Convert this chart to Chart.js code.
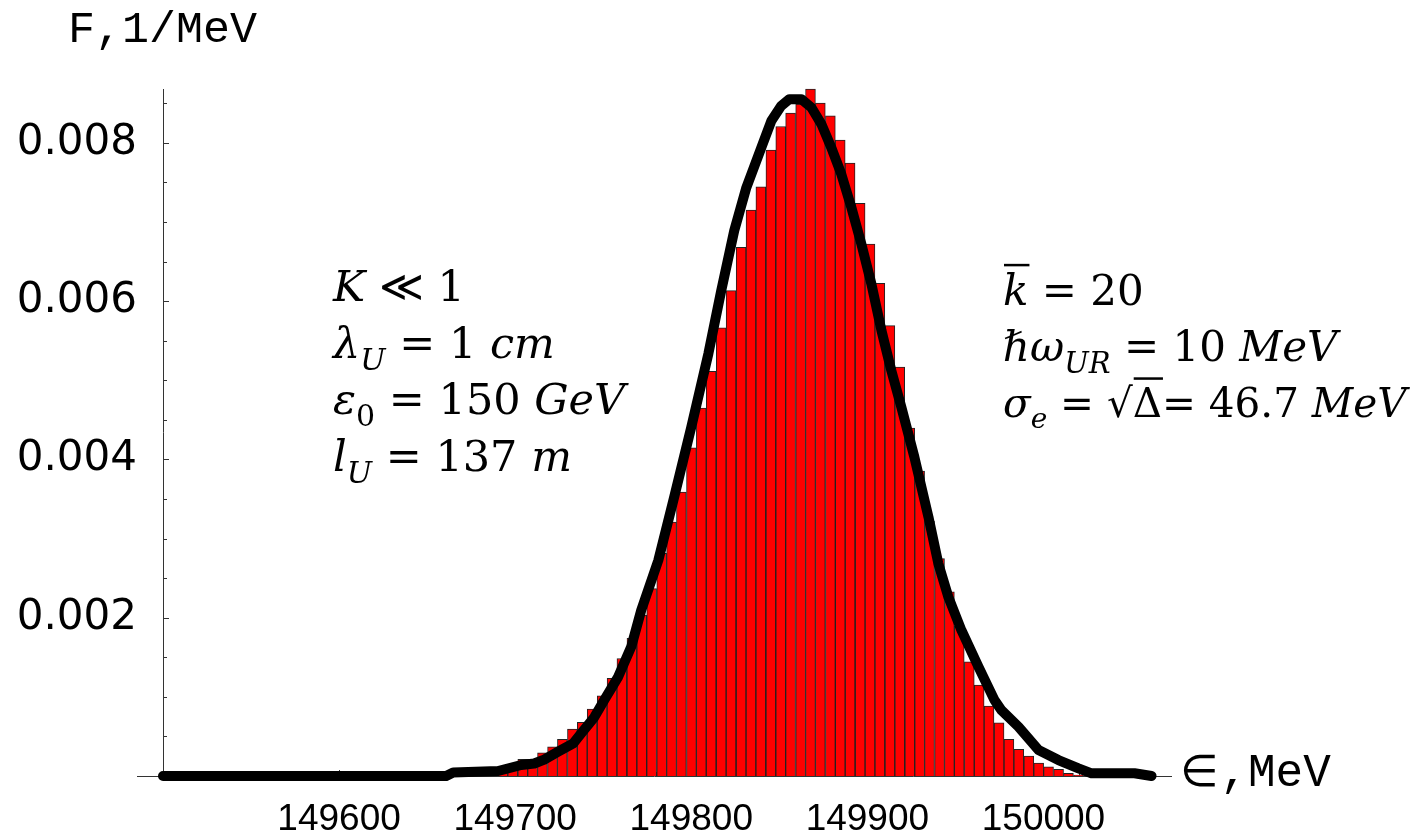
<!DOCTYPE html>
<html>
<head>
<meta charset="utf-8">
<script src="https://cdn.jsdelivr.net/npm/chart.js@4.4.0/dist/chart.umd.min.js"></script>
<style>
  html, body { margin: 0; padding: 0; background: #fff; }
</style>
</head>
<body>
<canvas id="histChart" width="1426" height="840"></canvas>
<script>
// histogram: bin centres (MeV) and heights (1/MeV)
const binCenters = [
  149693.0, 149698.6, 149704.3, 149709.9, 149715.5, 149721.2, 149726.8, 149732.5, 149738.1, 149743.7,
  149749.4, 149755.0, 149760.6, 149766.3, 149771.9, 149777.5, 149783.2, 149788.8, 149794.4, 149800.1,
  149805.7, 149811.3, 149817.0, 149822.6, 149828.3, 149833.9, 149839.5, 149845.2, 149850.8, 149856.4,
  149862.1, 149867.7, 149873.3, 149879.0, 149884.6, 149890.2, 149895.9, 149901.5, 149907.1, 149912.8,
  149918.4, 149924.1, 149929.7, 149935.3, 149941.0, 149946.6, 149952.2, 149957.9, 149963.5, 149969.1,
  149974.8, 149980.4, 149986.0, 149991.7, 149997.3, 150002.9, 150008.6, 150014.2, 150019.9, 150025.5
];
const binValues = [
  0.000117, 0.000117, 0.000211, 0.000211, 0.000294, 0.00037, 0.000463, 0.000593, 0.000678, 0.000845,
  0.001013, 0.001233, 0.001485, 0.001738, 0.002032, 0.002368, 0.002814, 0.003209, 0.003587, 0.004145,
  0.004647, 0.005114, 0.005662, 0.006132, 0.006679, 0.007151, 0.007445, 0.007908, 0.008206, 0.008375,
  0.008488, 0.008678, 0.008501, 0.008341, 0.008034, 0.007744, 0.007234, 0.006722, 0.006225, 0.005691,
  0.005165, 0.004395, 0.003852, 0.003218, 0.002747, 0.002326, 0.001893, 0.001442, 0.001148, 0.000883,
  0.000673, 0.000463, 0.000337, 0.000252, 0.000164, 0.000117, 0.000085, 0.000034, 0.000013, 0.000003
];

// theoretical curve
const curveE = [
  149500.0, 149660.8, 149664.8, 149690.3, 149703.4, 149710.8, 149716.5, 149724.4, 149733.0, 149737.5,
  149744.9, 149750.6, 149758.5, 149765.9, 149771.6, 149781.3, 149790.3, 149800.0, 149809.7, 149817.0,
  149824.4, 149831.3, 149839.8, 149845.5, 149851.1, 149855.7, 149862.5, 149868.2, 149873.9, 149879.5,
  149885.2, 149890.9, 149896.6, 149902.3, 149908.0, 149913.6, 149919.3, 149926.7, 149934.7, 149940.3,
  149946.0, 149953.4, 149963.1, 149972.2, 149976.1, 149985.8, 149997.2, 150008.5, 150019.9, 150027.3,
  150051.7, 150061.4
];
const curveF = [
  0, 0, 0.000044, 0.000063, 0.000139, 0.000158, 0.000208, 0.000307, 0.000413, 0.000539,
  0.000741, 0.000959, 0.001253, 0.001632, 0.002095, 0.002726, 0.003524, 0.004408, 0.005334, 0.006132,
  0.00689, 0.007436, 0.007941, 0.008278, 0.008467, 0.008551, 0.008551, 0.008446, 0.008236, 0.007941,
  0.007605, 0.007184, 0.006722, 0.006217, 0.005628, 0.005123, 0.00466, 0.004029, 0.003272, 0.002684,
  0.002262, 0.001842, 0.001379, 0.000959, 0.000833, 0.000622, 0.000328, 0.000202, 0.000097, 0.000034,
  0.000034, 0
];

// tick labels
const xTickLabels = [149600, 149700, 149800, 149900, 150000];
const yTickLabels = [0.002, 0.004, 0.006, 0.008];

// annotation text blocks
const leftNotes = [
  [['K', 'i'], [' \u226A ', 'n'], ['1', 'n']],
  [['\u03BB', 'i'], ['U', 's'], [' = ', 'n'], ['1 ', 'n'], ['cm', 'i']],
  [['\u03B5', 'i'], ['0', 'sn'], [' = ', 'n'], ['150 ', 'n'], ['GeV', 'i']],
  [['l', 'i'], ['U', 's'], [' = ', 'n'], ['137 ', 'n'], ['m', 'i']]
];
const rightNotes = [
  [['k', 'ib'], [' = ', 'n'], ['20', 'n']],
  [['\u210F\u03C9', 'i'], ['UR', 's'], [' = ', 'n'], ['10 ', 'n'], ['MeV', 'i']],
  [['\u03C3', 'i'], ['e', 's'], [' = ', 'n'], ['\u221A', 'n'], ['\u0394', 'nb'], ['= ', 'n'], ['46.7 ', 'n'], ['MeV', 'i']]
];

const AREA_LEFT = 163, AREA_TOP = 89, AREA_RIGHT = 1172, AREA_BOTTOM = 776;

function drawMath(ctx, x, y, parts, size) {
  const fam = '"DejaVu Serif", serif';
  let cx = x;
  for (const [txt, kind] of parts) {
    let font = `${size}px ${fam}`, dy = 0;
    if (kind === 'i' || kind === 'ib') font = `italic ${size}px ${fam}`;
    if (kind === 's') { font = `italic ${Math.round(size * 0.7)}px ${fam}`; dy = size * 0.28; }
    if (kind === 'sn') { font = `${Math.round(size * 0.7)}px ${fam}`; dy = size * 0.28; }
    ctx.font = font;
    ctx.fillText(txt, cx, y + dy);
    const w = ctx.measureText(txt).width;
    if (kind === 'ib' || kind === 'nb') {
      ctx.fillRect(cx + 1, y - size * 0.98, w, 2.5);
    }
    cx += w;
  }
}

const decorPlugin = {
  id: 'decor',
  beforeDatasetsDraw(chart) {
    const { ctx, scales: { x, y } } = chart;
    const xb = x.getPixelForValue(x.min);
    const yb = y.getPixelForValue(0);
    ctx.save();
    ctx.strokeStyle = '#333';
    ctx.lineWidth = 1;
    ctx.beginPath();
    ctx.moveTo(xb - 26, yb + 0.5);
    ctx.lineTo(x.right, yb + 0.5);
    ctx.moveTo(xb + 0.5, y.top);
    ctx.lineTo(xb + 0.5, yb);
    // y ticks, every 0.0005
    for (let i = 1; i * 0.0005 <= y.max; i++) {
      const py = Math.round(y.getPixelForValue(i * 0.0005)) + 0.5;
      const len = i % 4 === 0 ? 6 : 4;
      ctx.moveTo(xb, py);
      ctx.lineTo(xb + len, py);
    }
    // x ticks, every 20 MeV
    for (let i = 1; x.min + i * 20 <= x.max; i++) {
      const px = Math.round(x.getPixelForValue(x.min + i * 20)) + 0.5;
      const len = i % 5 === 0 ? 6 : 4;
      ctx.moveTo(px, yb);
      ctx.lineTo(px, yb - len);
    }
    ctx.stroke();
    ctx.restore();
  },
  afterDraw(chart) {
    const { ctx } = chart;
    ctx.save();
    ctx.fillStyle = '#000';
    ctx.textBaseline = 'alphabetic';
    // axis titles
    ctx.font = '45px "Liberation Mono", monospace';
    ctx.fillText('F,1/MeV', 68, 42);
    ctx.font = '44px "DejaVu Sans", sans-serif';
    ctx.fillText('\u2208', 1180, 786);
    const w = ctx.measureText('\u2208').width;
    ctx.font = '46px "Liberation Mono", monospace';
    ctx.fillText(',MeV', 1182 + w, 786);
    // parameters
    leftNotes.forEach((p, i) => drawMath(ctx, 333, 301 + i * 56.5, p, 43));
    rightNotes.forEach((p, i) => drawMath(ctx, 1003, 305 + i * 56, p, i === 2 ? 40.5 : 42));
    ctx.restore();
  }
};

const chart = new Chart(document.getElementById('histChart'), {
  type: 'bar',
  data: {
    datasets: [
      {
        type: 'line',
        data: curveE.map((e, i) => ({ x: e, y: curveF[i] })),
        borderColor: '#000',
        borderWidth: 10,
        borderCapStyle: 'round',
        borderJoinStyle: 'round',
        pointRadius: 0,
        tension: 0,
        clip: false,
        order: 0
      },
      {
        type: 'bar',
        data: binCenters.map((e, i) => ({ x: e, y: binValues[i] })),
        backgroundColor: '#ff0000',
        borderColor: '#222',
        borderWidth: 1,
        barPercentage: 1,
        categoryPercentage: 1,
        clip: false,
        order: 1
      }
    ]
  },
  options: {
    responsive: false,
    devicePixelRatio: 1,
    animation: false,
    layout: { padding: { left: 0, top: AREA_TOP, right: 1426 - AREA_RIGHT, bottom: 0 } },
    plugins: { legend: { display: false }, tooltip: { enabled: false } },
    scales: {
      x: {
        type: 'linear',
        min: 149500,
        max: 150073,
        offset: false,
        grid: { display: false, drawTicks: false },
        border: { display: false },
        afterFit: s => { s.height = 840 - AREA_BOTTOM; },
        ticks: {
          stepSize: 100,
          includeBounds: false,
          autoSkip: false,
          maxRotation: 0,
          padding: 22,
          color: '#000',
          font: { family: '"Liberation Sans", sans-serif', size: 37 },
          callback: v => xTickLabels.includes(v) ? String(v) : ''
        }
      },
      y: {
        min: 0,
        max: 0.00868,
        grid: { display: false, drawTicks: false },
        border: { display: false },
        afterFit: s => { s.width = AREA_LEFT; },
        ticks: {
          stepSize: 0.002,
          includeBounds: false,
          padding: 26,
          color: '#000',
          font: { family: '"DejaVu Sans", sans-serif', size: 42 },
          callback: v => {
            const hit = yTickLabels.find(t => Math.abs(t - v) < 1e-9);
            return hit ? hit.toFixed(3) : '';
          }
        }
      }
    }
  },
  plugins: [decorPlugin]
});
</script>
</body>
</html>
